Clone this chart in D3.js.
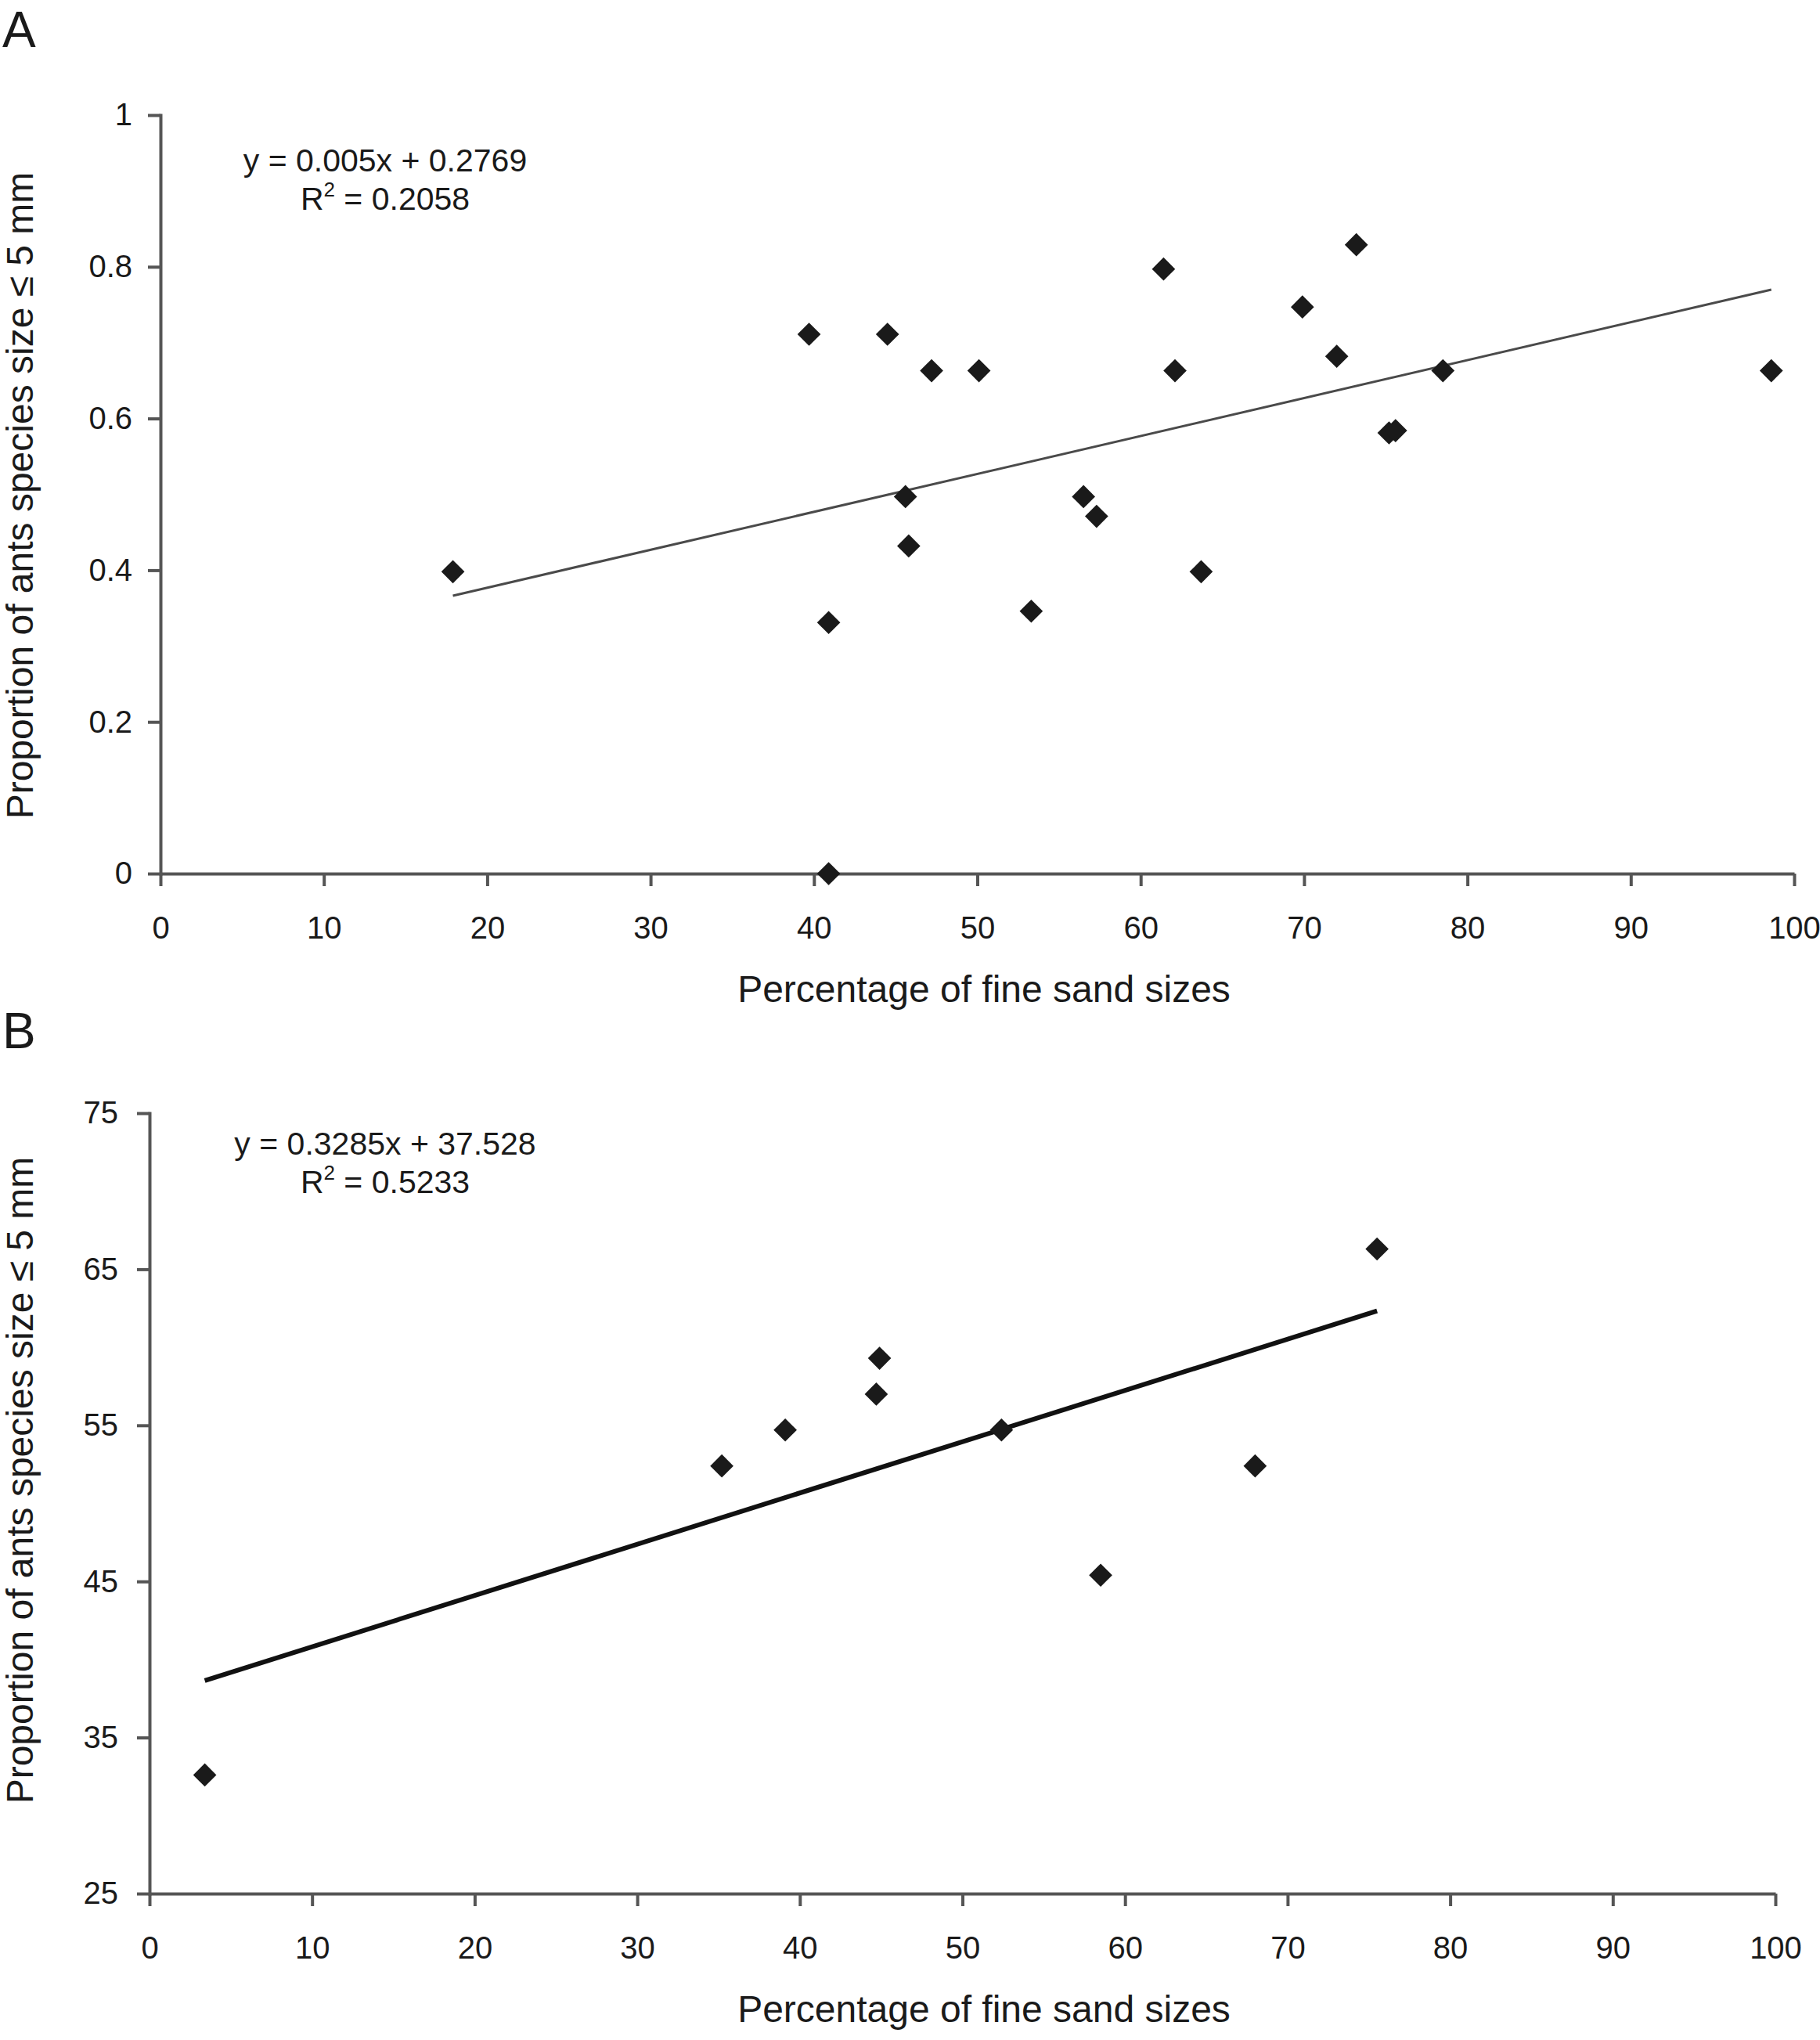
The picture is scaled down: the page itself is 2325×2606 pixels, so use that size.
<!DOCTYPE html>
<html>
<head>
<meta charset="utf-8">
<script src="https://cdnjs.cloudflare.com/ajax/libs/d3/7.8.5/d3.min.js"></script>
<style>
body { margin:0; background:#fff; }
text { font-family: "Liberation Sans", Arial, Helvetica, sans-serif; fill:#1a1a1a; }
</style>
</head>
<body>
<div id="canvas"></div>
<script>
// Panel A: fine sand % vs proportion of small ant species
var sandA = [17.9, 39.7, 40.9, 40.9, 44.5, 47.2, 50.1, 45.6, 45.8, 53.3, 56.5, 57.3,
             61.4, 62.1, 63.7, 69.9, 72.0, 73.2, 75.2, 75.6, 78.5, 98.6];
var propA = [0.398, 0.711, 0.331, 0, 0.711, 0.663, 0.663, 0.497, 0.432, 0.346, 0.497, 0.471,
             0.797, 0.663, 0.398, 0.747, 0.682, 0.829, 0.581, 0.584, 0.663, 0.663];
var fitA = [0.005, 0.2769];
var eqA = ["y = 0.005x + 0.2769", "0.2058"];
var yTicksA = [0, 0.2, 0.4, 0.6, 0.8, 1];

// Panel B
var sandB = [3.4, 35.2, 39.1, 44.9, 44.7, 52.4, 58.5, 68.0, 75.5];
var propB = [32.6, 52.4, 54.7, 59.3, 57.0, 54.7, 45.4, 52.4, 66.3];
var fitB = [0.3285, 37.528];
var eqB = ["y = 0.3285x + 37.528", "0.5233"];
var yTicksB = [25, 35, 45, 55, 65, 75];

var xTicks = [0, 10, 20, 30, 40, 50, 60, 70, 80, 90, 100];
var xTitle = "Percentage of fine sand sizes";
var yTitle = "Proportion of ants species size \u2264 5 mm";

var width = 2325;
var height = 2606;

var svg = d3.select("#canvas").append("svg")
	.attr("width", width)
	.attr("height", height)
	.style("background", "#fff");

function drawPanel(p) {
	var x = d3.scaleLinear().domain([0, 100]).range([p.left, p.right]);
	var y = d3.scaleLinear().domain(p.ydom).range([p.bottom, p.top]);
	var g = svg.append("g");

	var xAxis = g.append("g")
		.attr("transform", "translate(0," + p.bottom + ")")
		.call(d3.axisBottom(x).tickValues(xTicks).tickSize(16).tickSizeOuter(0).tickPadding(39));
	var yAxis = g.append("g")
		.attr("transform", "translate(" + p.left + ",0)")
		.call(d3.axisLeft(y).tickValues(p.yticks).tickSize(16).tickSizeOuter(0).tickPadding(p.ypad)
			.tickFormat(function(d){ return "" + d; }));

	[xAxis, yAxis].forEach(function(a){
		a.selectAll("path, line").attr("stroke", "#555").attr("stroke-width", 4);
		a.selectAll("text").style("font-size", "40px").attr("fill", "#1a1a1a");
	});
	yAxis.select(".domain").attr("stroke-linecap", "square");

	// trend line over the range of the data
	var ext = d3.extent(p.xs);
	g.append("line")
		.attr("x1", x(ext[0]))
		.attr("y1", y(p.fit[0]*ext[0] + p.fit[1]))
		.attr("x2", x(ext[1]))
		.attr("y2", y(p.fit[0]*ext[1] + p.fit[1]))
		.attr("stroke", p.lineColor)
		.attr("stroke-width", p.lineWidth);

	var diamond = d3.symbol().type(d3.symbolSquare).size(440);
	g.selectAll("path.pt").data(d3.range(p.xs.length)).enter()
		.append("path")
		.attr("class", "pt")
		.attr("d", diamond)
		.attr("transform", function(i){
			return "translate(" + x(p.xs[i]) + "," + y(p.ys[i]) + ") rotate(45)";
		})
		.attr("fill", "#1a1a1a");

	// equation
	g.append("text")
		.attr("x", 492).attr("y", p.eqY)
		.attr("text-anchor", "middle")
		.style("font-size", "41px")
		.text(p.eq[0]);
	var r2 = g.append("text")
		.attr("x", 492).attr("y", p.eqY + 49)
		.attr("text-anchor", "middle")
		.style("font-size", "41px");
	r2.append("tspan").text("R");
	r2.append("tspan").attr("dy", -17).style("font-size", "26px").text("2");
	r2.append("tspan").attr("dy", 17).text(" = " + p.eq[1]);

	// axis titles
	g.append("text")
		.attr("x", 1257)
		.attr("y", p.bottom + 164)
		.attr("text-anchor", "middle")
		.style("font-size", "48px")
		.text(xTitle);
	g.append("text")
		.attr("transform", "translate(42," + p.ymid + ") rotate(-90)")
		.attr("text-anchor", "middle")
		.style("font-size", "48px")
		.text(yTitle);

	g.append("text")
		.attr("x", 3).attr("y", p.labelY)
		.style("font-size", "64px")
		.text(p.label);
}

drawPanel({label: "A", labelY: 60, xs: sandA, ys: propA, fit: fitA, eq: eqA,
	ydom: [0, 1], yticks: yTicksA, ypad: 20,
	left: 205, right: 2292, top: 147, bottom: 1116, ymid: 633, eqY: 219,
	lineColor: "#4a4a4a", lineWidth: 3});

drawPanel({label: "B", labelY: 1339, xs: sandB, ys: propB, fit: fitB, eq: eqB,
	ydom: [25, 75], yticks: yTicksB, ypad: 24,
	left: 191, right: 2268, top: 1422, bottom: 2419, ymid: 1891, eqY: 1475,
	lineColor: "#111", lineWidth: 6});
</script>
</body>
</html>
